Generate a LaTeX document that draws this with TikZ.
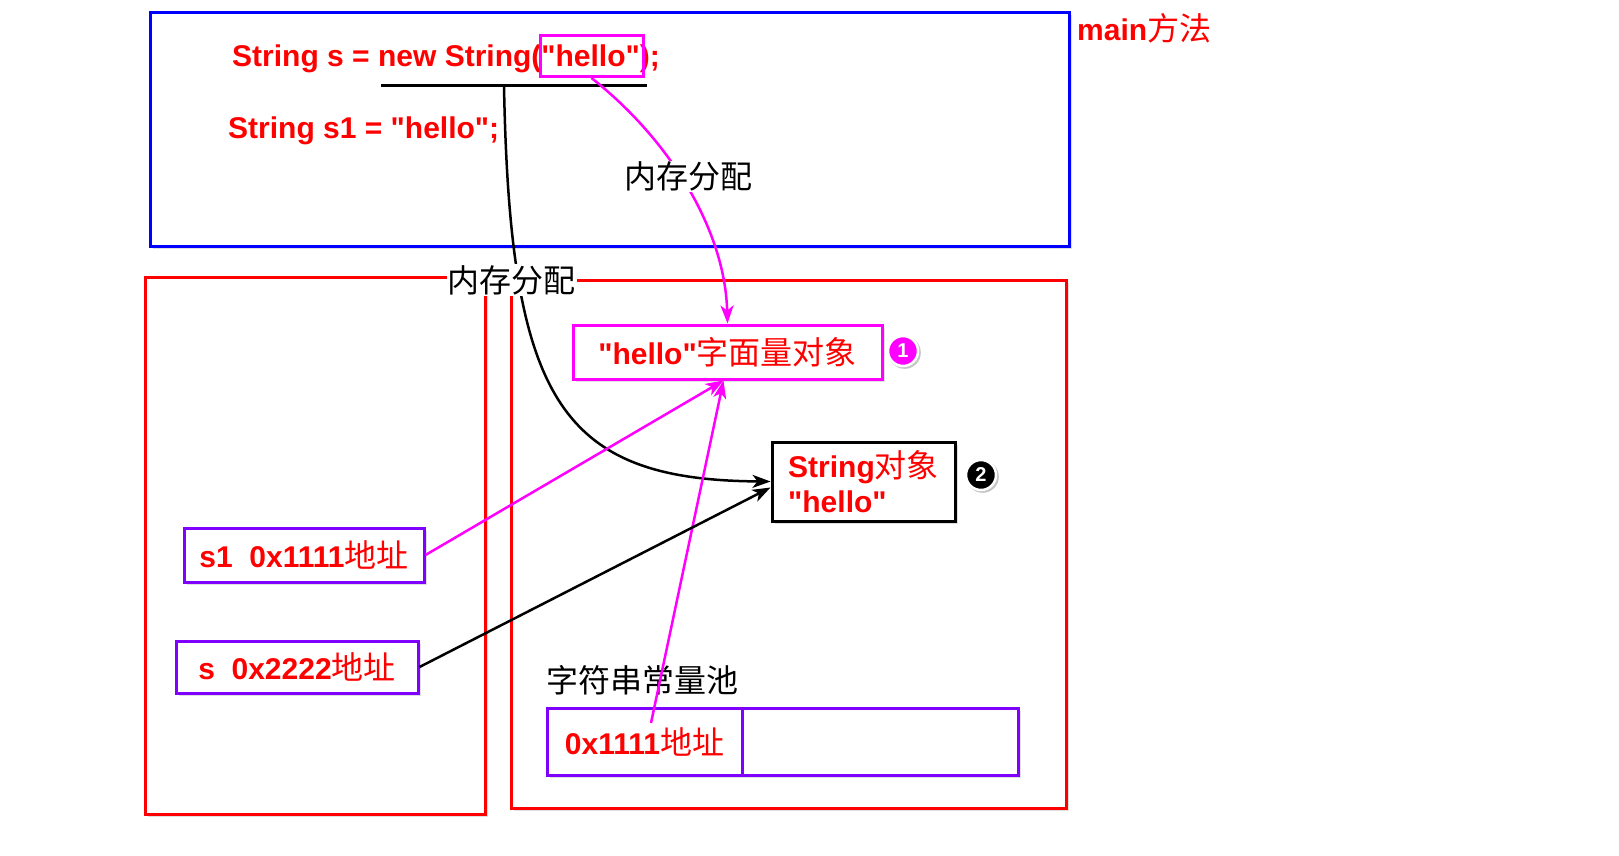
\documentclass[tikz,border=0pt]{standalone}
\usepackage{fontspec}
\setmainfont{Liberation Sans}[Ligatures=TeXOff]
\newfontfamily\cjk{Noto Sans CJK SC}
\usetikzlibrary{arrows.meta,shadows}
\definecolor{mainblue}{HTML}{0000FF}
\definecolor{heapred}{HTML}{FF0000}
\definecolor{varpurple}{HTML}{8000FF}
\definecolor{objpink}{HTML}{FF00FF}
\newcommand{\cjktext}[1]{{\fontsize{32}{36}\selectfont\cjk\mdseries #1}}

\begin{document}
\begin{tikzpicture}[x=1pt,y=-1pt,
            box/.style={draw,rectangle,line width=3pt,inner sep=0pt,fill=white,
              drop shadow={shadow xshift=3pt,shadow yshift=-3pt,opacity=.25}},
            frame/.style={box,draw=mainblue},
            heapbox/.style={box,draw=heapred},
            var/.style={box,draw=varpurple,text=heapred,font=\fontsize{30}{35}\selectfont\bfseries},
            obj/.style={box,text=heapred,font=\fontsize{30}{35}\selectfont\bfseries},
            code/.style={anchor=west,inner sep=0pt,text=heapred,font=\fontsize{30}{35}\selectfont\bfseries},
            lab/.style={inner sep=1pt,font=\fontsize{32}{36}\selectfont\cjk},
            num/.style={circle,draw=white,line width=2.5pt,text=white,inner sep=0pt,minimum size=30pt,
              font=\fontsize{20}{20}\selectfont\bfseries,
              drop shadow={shadow xshift=1.5pt,shadow yshift=-1.5pt,opacity=.45,shadow scale=1.08}},
            ref/.style={line width=2.5pt,-{Stealth[length=18pt,width=13pt,inset=5pt]}}
          ]
          \useasboundingbox (0,0) rectangle (1619,855);

          %main method
          \node[frame,minimum width=919pt,minimum height=234pt] (mainm) at (609.5,129) {};
          \node[code,text=heapred,anchor=west] (mainlab) at (1077,28) {main\cjktext{方法}};
          \node[code] (line1) at (232,59) {String s = new String("hello");};
          \node[code] (line2) at (228,131) {String s1 = "hello";};
          \node[draw=objpink,line width=3pt,minimum width=103pt,minimum height=41pt] (hl) at (591.5,56) {};
          \coordinate (ulA) at (381,85);
          \coordinate (ulB) at (647,85);
          \coordinate (ulC) at (504,86);
          \draw[line width=3pt] (ulA) -- (ulB);

          %stack and heap
          \node[heapbox,minimum width=340pt,minimum height=537pt] (stack) at (315,545.5) {};
          \node[heapbox,minimum width=555pt,minimum height=528pt] (heap) at (788.5,544) {};

          %objects
          \node[obj,draw=objpink,minimum width=309pt,minimum height=54pt] (lit) at (727.5,352)
            {"hello"\cjktext{字面量对象}};
          \node[obj,draw=black,minimum width=183pt,minimum height=79pt,align=left] (strobj) at (863.5,481.5)
            {String\cjktext{对象}\\"hello"};
          \node[num,fill=objpink] (one) at (903,351) {1};
          \node[num,fill=black] (two) at (981,475) {2};

          %variables
          \node[var,minimum width=240pt,minimum height=54pt] (sone) at (304,555) {s1\ \ 0x1111\cjktext{地址}};
          \node[var,minimum width=242pt,minimum height=52pt] (svar) at (297,667) {s\ \ 0x2222\cjktext{地址}};

          %string pool
          \node[lab,anchor=west] (poollab) at (545,680) {字符串常量池};
          \node[var,minimum width=195pt,minimum height=67pt] (addr) at (644.5,741.5) {0x1111\cjktext{地址}};
          \node[var,minimum width=276pt,minimum height=67pt] (poolrest) at (880,741.5) {};
          \coordinate (addrtop) at (651,723);

          %references
          \draw[ref,draw=objpink] (hl.south) .. controls (670,140) and (725,230) .. (lit.north)
            node[lab,fill=white,pos=.45,xshift=8pt] {内存分配};
          \draw[ref] (ulC) .. controls (510,400) and (560,480) .. (strobj.west)
            node[lab,fill=white,pos=.25,xshift=-7pt] {内存分配};
          \draw[ref,draw=objpink] (sone.east) -- ([xshift=-4pt]lit.south);
          \draw[ref,draw=objpink] (addrtop) -- ([xshift=-4pt]lit.south);
          \draw[ref] (svar.east) -- ([yshift=-6pt]strobj.west);

      \end{tikzpicture}
\end{document}
